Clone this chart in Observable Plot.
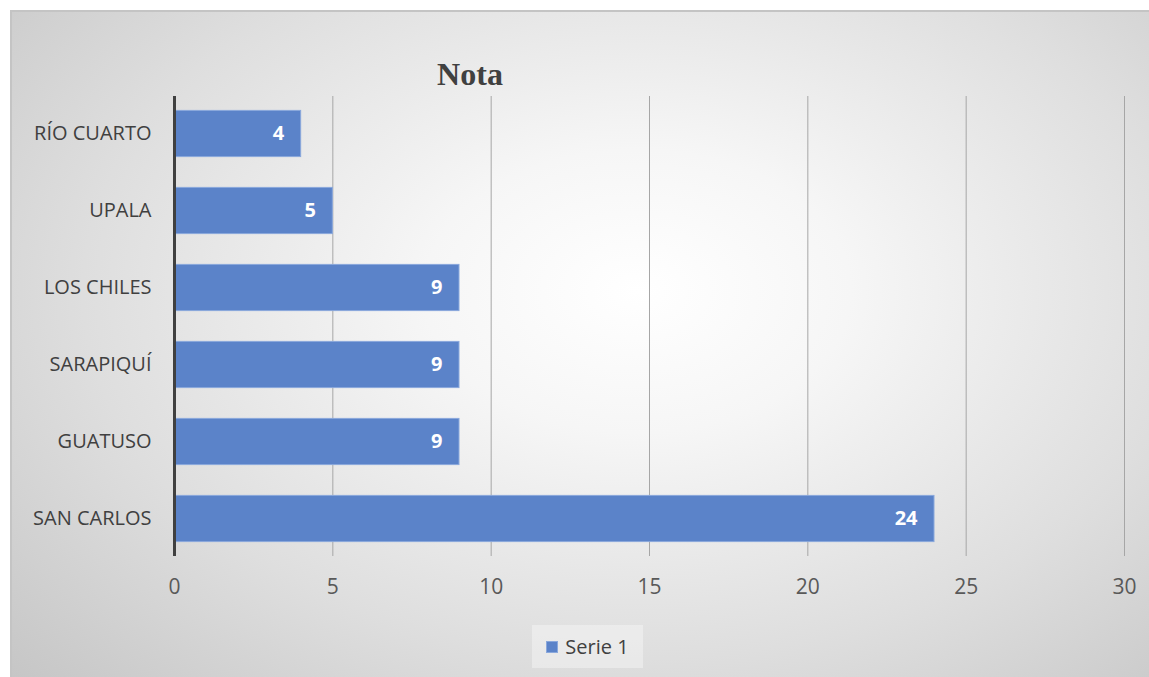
<!DOCTYPE html>
<html>
<head>
<meta charset="utf-8">
<script src="https://cdn.jsdelivr.net/npm/d3@7"></script>
<script src="https://cdn.jsdelivr.net/npm/@observablehq/plot@0.6"></script>
<style>
  html, body { margin: 0; padding: 0; background: #ffffff; }
  #wrap { position: relative; width: 1149px; height: 677px; overflow: hidden; }
  #frame {
    position: absolute; left: 10px; top: 10px; width: 1139px; height: 667px;
    border-top: 2px solid #c4c4c4; border-left: 2px solid #c4c4c4; box-sizing: border-box;
    background: radial-gradient(ellipse 75% 85% at 55% 42%, #ffffff 0%, #f6f6f6 25%, #dedede 65%, #c6c6c6 100%);
  }
  #title {
    position: absolute; left: 0; width: 940px; top: 58px; text-align: center;
    font-family: "Liberation Serif", "Times New Roman", serif; font-weight: bold;
    font-size: 32px; line-height: 32px; color: #404040;
  }
  #chart { position: absolute; left: 0; top: 0; }
  #legend {
    position: absolute; left: 532px; top: 625px; width: 111px; height: 43px;
    background: rgba(255,255,255,0.35);
    display: flex; align-items: center; justify-content: center; gap: 7px;
    font-family: "Open Sans", sans-serif; font-size: 20px; color: #404040;
  }
  #legend .sw { width: 12px; height: 12px; background: #5b83c9; border: 1px solid #8aa8dc; box-sizing: border-box; }
</style>
</head>
<body>
<div id="wrap">
  <div id="frame"></div>
  <div id="title">Nota</div>
  <div id="chart"></div>
  <div id="legend"><span class="sw"></span><span>Serie 1</span></div>
</div>
<script>
const categories = ["RÍO CUARTO", "UPALA", "LOS CHILES", "SARAPIQUÍ", "GUATUSO", "SAN CARLOS"];
const values = [4, 5, 9, 9, 9, 24];
const xTicks = [0, 5, 10, 15, 20, 25, 30];
const seriesName = "Serie 1";

const data = categories.map((c, i) => ({category: c, value: values[i], series: seriesName}));

const chart = Plot.plot({
  width: 1149,
  height: 610,
  marginLeft: 174,
  marginRight: 25,
  marginTop: 96,
  marginBottom: 54,
  style: {background: "transparent", fontFamily: "Open Sans, sans-serif"},
  x: {domain: [0, 30], ticks: xTicks},
  y: {domain: categories, paddingInner: 0.4, paddingOuter: 0.187, round: false},
  marks: [
    Plot.gridX(xTicks.filter(t => t > 0), {stroke: "#a6a6a6", strokeOpacity: 1, strokeWidth: 1}),
    Plot.barX(data, {x: "value", y: "category", fill: "#5b83c9", stroke: "#8aa8dc", strokeWidth: 1}),
    Plot.text(data, {x: "value", y: "category", text: d => String(d.value), textAnchor: "end", dx: -17,
      fill: "white", fontWeight: "bold", fontSize: 20}),
    Plot.ruleX([0], {stroke: "#404040", strokeWidth: 3}),
    Plot.axisX({ticks: xTicks, tickSize: 0, tickPadding: 23, fontSize: 21, color: "#595959", label: null, tickFormat: d => String(d)}),
    Plot.axisY({tickSize: 0, tickPadding: 23, fontSize: 20, color: "#404040", label: null})
  ]
});
document.getElementById("chart").appendChild(chart);
</script>
</body>
</html>
